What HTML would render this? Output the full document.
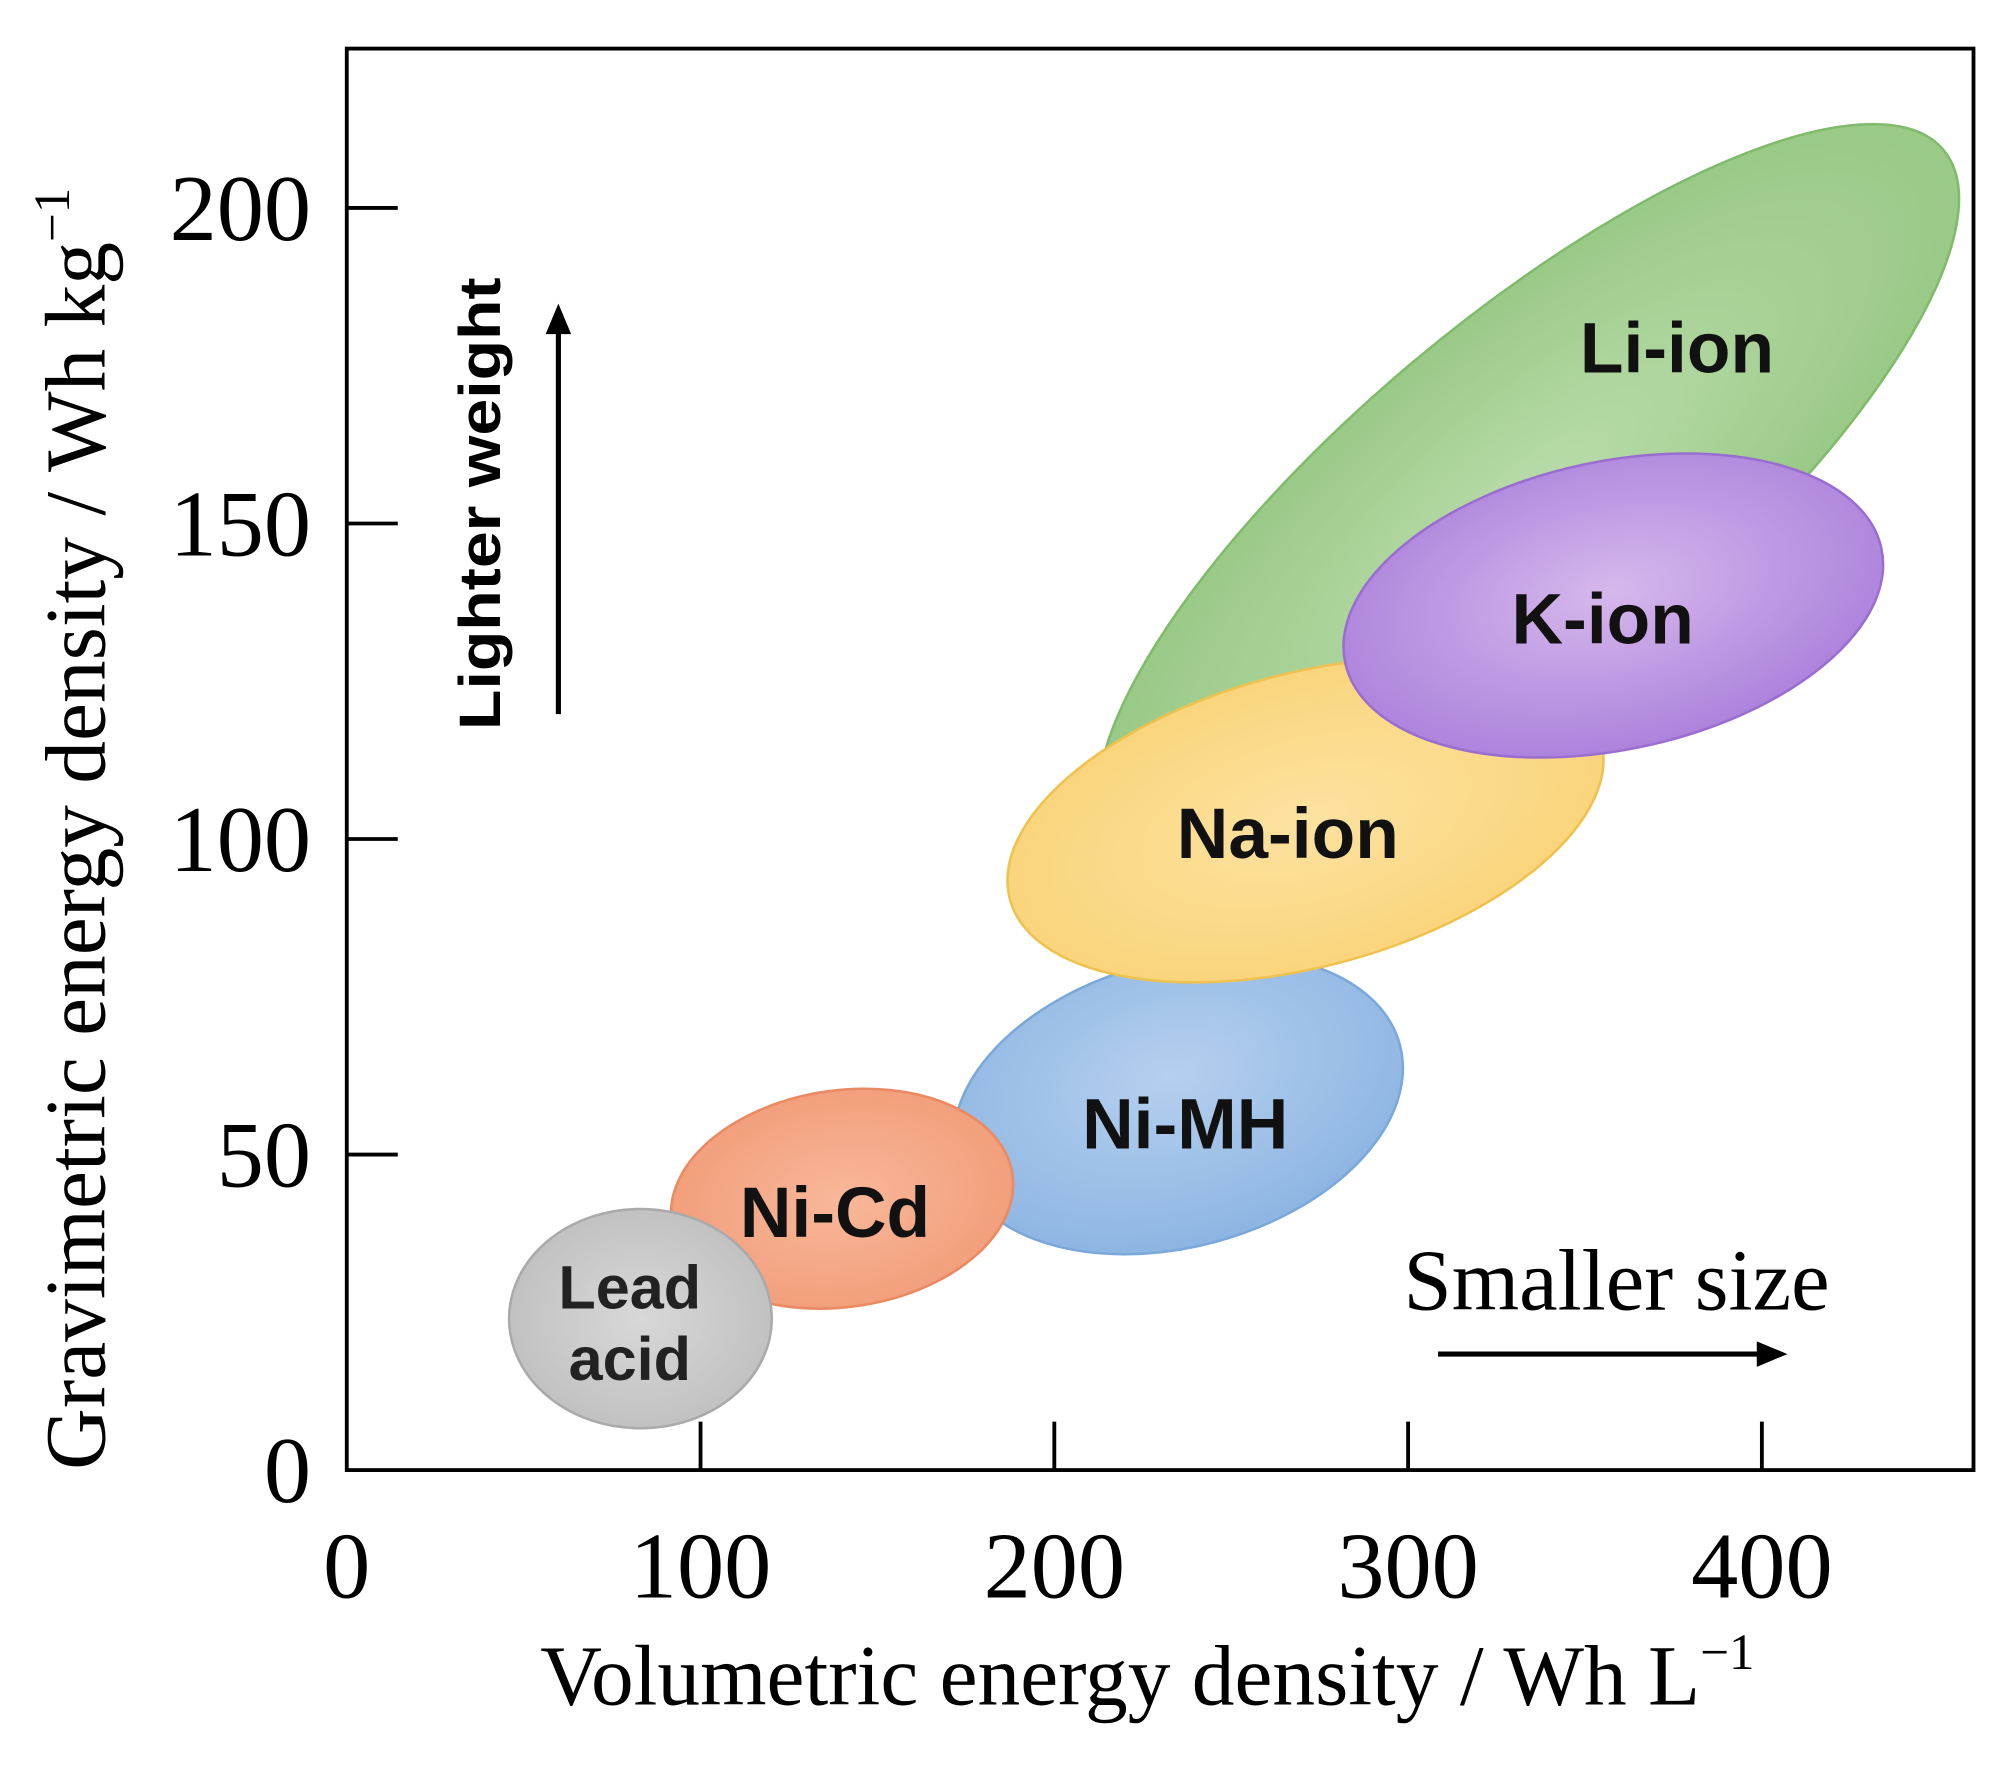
<!DOCTYPE html>
<html><head><meta charset="utf-8"><style>
html,body{margin:0;padding:0;background:#fff;}
svg{display:block;}
</style></head><body>
<svg id="chart" width="1999" height="1766" viewBox="0 0 1568 1385" xmlns="http://www.w3.org/2000/svg">
<defs>
<radialGradient id="gLi" cx="0.5" cy="0.5" r="0.6"><stop offset="0" stop-color="#b9dcaa"/><stop offset="1" stop-color="#93c67f"/></radialGradient>
<radialGradient id="gK" cx="0.5" cy="0.45" r="0.6"><stop offset="0" stop-color="#d6b8ec"/><stop offset="1" stop-color="#a97ddb"/></radialGradient>
<radialGradient id="gNa" cx="0.5" cy="0.5" r="0.6"><stop offset="0" stop-color="#fde2a0"/><stop offset="1" stop-color="#f9d275"/></radialGradient>
<radialGradient id="gMH" cx="0.5" cy="0.4" r="0.6"><stop offset="0" stop-color="#b5d0ef"/><stop offset="1" stop-color="#8db5e2"/></radialGradient>
<radialGradient id="gCd" cx="0.5" cy="0.5" r="0.6"><stop offset="0" stop-color="#f8b89a"/><stop offset="1" stop-color="#f19a76"/></radialGradient>
<radialGradient id="gPb" cx="0.5" cy="0.5" r="0.6"><stop offset="0" stop-color="#d8d8d8"/><stop offset="1" stop-color="#bdbdbd"/></radialGradient>
</defs>
<g id="regions"></g>
<g id="axes"></g>
</svg>
<script>
// data
const names = ["Li-ion","K-ion","Na-ion","Ni-MH","Ni-Cd","Lead acid"];
const centerX = [334, 358, 271, 235, 140, 83]; // Wh/L
const centerY = [154, 137, 103, 58, 43, 24];   // Wh/kg
const labelX = [376, 355, 266, 237, 138, 80];
const labelY = [178, 135, 101, 55, 41, 24];
const xTicks = [0,100,200,300,400];
const yTicks = [0,50,100,150,200];
// styles / geometry (not data)
const rx = [425, 215, 240, 180, 135, 103];
const ry = [140, 113, 115, 112, 85, 86];
const rot = [-40, -12, -15, -15, -8, 0];
const fills = ["url(#gLi)","url(#gK)","url(#gNa)","url(#gMH)","url(#gCd)","url(#gPb)"];
const strokes = ["#80bb6c","#9a6ed0","#efc24f","#7aa8da","#ea8a63","#aaaaaa"];
const L=272,T=38,R=1548,B=1153;
const xs = v => L + v*2.775;
const ys = v => B - v*4.95;
const NS="http://www.w3.org/2000/svg";
function mk(t,a,p){const e=document.createElementNS(NS,t);for(const k in a)e.setAttribute(k,a[k]);p.appendChild(e);return e;}
const reg=document.getElementById('regions');
const order=[0,1,2,3,4,5];
const drawOrder=[0,3,2,1,4,5];
drawOrder.forEach(i=>{
  const cx=xs(centerX[i]),cy=ys(centerY[i]);
  const e=mk('ellipse',{cx:cx,cy:cy,rx:rx[i],ry:ry[i],transform:`rotate(${rot[i]} ${cx} ${cy})`,fill:fills[i],stroke:strokes[i],'stroke-width':2},reg);
  
  
});
order.forEach(i=>{
  const x=xs(labelX[i]),y=ys(labelY[i]);
  if(i===5){
    const t=mk('text',{x:x,y:y-8,'text-anchor':'middle','font-family':'Liberation Sans, sans-serif','font-weight':'bold','font-size':48,fill:'#222'},reg);
    t.textContent='Lead';
    
    
    const t2=mk('text',{x:x,y:y+48,'text-anchor':'middle','font-family':'Liberation Sans, sans-serif','font-weight':'bold','font-size':48,fill:'#222'},reg);
    t2.textContent='acid';
    
    
  } else {
    const t=mk('text',{x:x,y:y+20,'text-anchor':'middle','font-family':'Liberation Sans, sans-serif','font-weight':'bold','font-size':56,fill:'#111'},reg);
    t.textContent=names[i];
    
    
  }
});
const ax=document.getElementById('axes');
const fr=mk('rect',{x:L,y:T,width:R-L,height:B-T,fill:'none',stroke:'#000','stroke-width':3},ax);


xTicks.forEach(v=>{
  const x=xs(v);
  if(v>0){const l=mk('line',{x1:x,x2:x,y1:B,y2:B-38,stroke:'#000','stroke-width':3},ax);
  
  }
  const t=mk('text',{x:x,y:B+100,'text-anchor':'middle','font-family':'Liberation Serif, serif','font-size':74,fill:'#000'},ax);
  t.textContent=v;
  
  
});
yTicks.forEach(v=>{
  const y=ys(v);
  if(v>0){const l=mk('line',{x1:L,x2:L+40,y1:y,y2:y,stroke:'#000','stroke-width':3},ax);
  
  }
  const t=mk('text',{x:L-28,y:y+25,'text-anchor':'end','font-family':'Liberation Serif, serif','font-size':74,fill:'#000'},ax);
  t.textContent=v;
  
  
});
</script>
<svg style="position:absolute;left:0;top:0" width="1999" height="1766" viewBox="0 0 1568 1385" xmlns="http://www.w3.org/2000/svg">
<text x="900" y="1337" text-anchor="middle" font-family="Liberation Serif, serif" font-size="67">Volumetric energy density / Wh L<tspan dy="-28" font-size="40">−1</tspan></text>
<text transform="translate(82 650) rotate(-90)" text-anchor="middle" font-family="Liberation Serif, serif" font-size="67">Gravimetric energy density / Wh kg<tspan dy="-28" font-size="40">−1</tspan></text>
<text transform="translate(392 395) rotate(-90)" text-anchor="middle" font-family="Liberation Sans, sans-serif" font-weight="bold" font-size="46" textLength="355" lengthAdjust="spacingAndGlyphs">Lighter weight</text>
<g><line x1="438" y1="560" x2="438" y2="255" stroke="#000" stroke-width="4"/><polygon points="438,238 428,262 448,262" fill="#000"/></g>
<text x="1268" y="1027" text-anchor="middle" font-family="Liberation Serif, serif" font-size="68">Smaller size</text>
<g><line x1="1128" y1="1062" x2="1385" y2="1062" stroke="#000" stroke-width="4"/><polygon points="1402,1062 1378,1052 1378,1072" fill="#000"/></g>
</svg>
</body></html>
